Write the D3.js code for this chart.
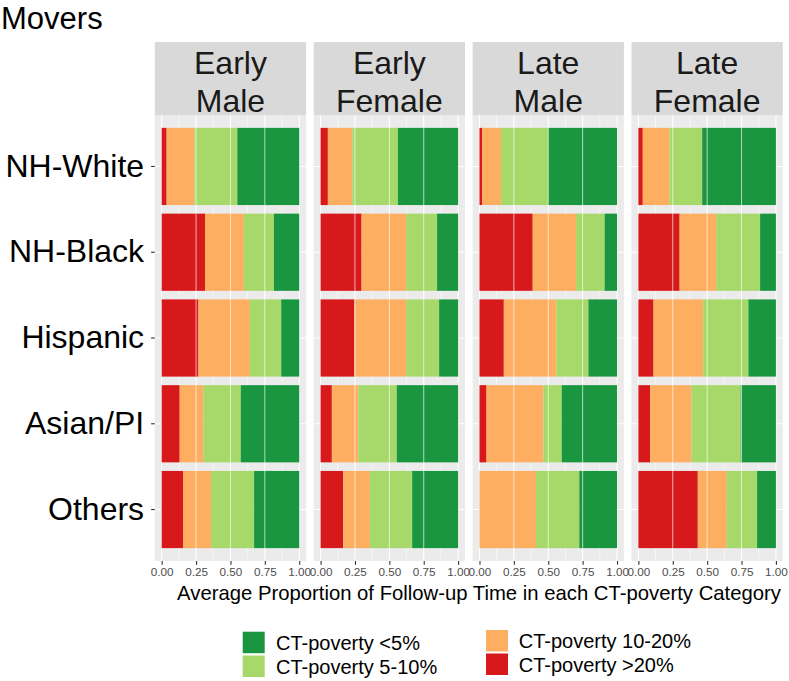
<!DOCTYPE html>
<html>
<head>
<meta charset="utf-8">
<script src="https://cdn.jsdelivr.net/npm/d3@7"></script>
<style>
  html, body { margin: 0; padding: 0; background: #ffffff; }
  svg { display: block; font-family: "Liberation Sans", Arial, sans-serif; }
</style>
</head>
<body>
<svg id="chart" width="789" height="681"></svg>
<script>
// ---------------- DATA ----------------
const chartTitle = "Movers";
const facetLabels = [["Early", "Male"], ["Early", "Female"], ["Late", "Male"], ["Late", "Female"]];
const groups = ["NH-White", "NH-Black", "Hispanic", "Asian/PI", "Others"];
const seriesKeys = ["gt20", "p10to20", "p5to10", "lt5"];
const seriesLabels = ["CT-poverty >20%", "CT-poverty 10-20%", "CT-poverty 5-10%", "CT-poverty <5%"];
const seriesColors = ["#d7191c", "#fdae61", "#a6d96a", "#1a9641"];
const xTicks = [0, 0.25, 0.5, 0.75, 1];
const xTickLabels = ["0.00", "0.25", "0.50", "0.75", "1.00"];
const xTitle = "Average Proportion of Follow-up Time in each CT-poverty Category";

// proportions per facet (rows) x group (cols)
const gt20 = [
  [0.036, 0.315, 0.267, 0.131, 0.155],
  [0.053, 0.298, 0.247, 0.082, 0.165],
  [0.019, 0.387, 0.177, 0.051, 0.000],
  [0.032, 0.300, 0.110, 0.086, 0.432]
];
const p10to20 = [
  [0.202, 0.282, 0.374, 0.172, 0.204],
  [0.177, 0.324, 0.375, 0.192, 0.193],
  [0.138, 0.315, 0.382, 0.414, 0.411],
  [0.195, 0.266, 0.361, 0.300, 0.210]
];
const p5to10 = [
  [0.312, 0.219, 0.228, 0.272, 0.313],
  [0.332, 0.225, 0.240, 0.280, 0.308],
  [0.342, 0.208, 0.233, 0.133, 0.315],
  [0.237, 0.319, 0.329, 0.358, 0.221]
];
const lt5 = [
  [0.450, 0.184, 0.131, 0.425, 0.328],
  [0.438, 0.153, 0.138, 0.446, 0.334],
  [0.501, 0.090, 0.208, 0.402, 0.274],
  [0.536, 0.115, 0.200, 0.256, 0.137]
];
const overlayLines = [0.25, 0.5, 0.75];

// ---------------- LAYOUT ----------------
const svg = d3.select("#chart");
const W = 789, H = 681;
const panelLeft0 = 154.8, panelW = 151.3, panelStep = 158.9;
const stripTop = 42, stripH = 73;
const panelTop = stripTop + stripH, panelBottom = 561;

svg.append("text")
  .attr("x", 1).attr("y", 28.5)
  .attr("font-size", 31).attr("fill", "#000")
  .text(chartTitle);

const y = d3.scaleBand().domain(groups)
  .range([panelTop, panelBottom]).paddingInner(0.1).paddingOuter(0.15);

const seriesData = [gt20, p10to20, p5to10, lt5];

facetLabels.forEach((lab, fi) => {
  const left = panelLeft0 + fi * panelStep;
  const x = d3.scaleLinear().domain([-0.05, 1.05]).range([left, left + panelW]);
  const g = svg.append("g");

  // strip
  g.append("rect").attr("x", left).attr("y", stripTop).attr("width", panelW).attr("height", stripH)
    .attr("fill", "#d9d9d9");
  lab.forEach((t, li) => {
    g.append("text").attr("x", left + panelW / 2).attr("y", stripTop + 31.5 + li * 38)
      .attr("text-anchor", "middle").attr("font-size", 32).attr("fill", "#1a1a1a").text(t);
  });

  // panel background
  g.append("rect").attr("x", left).attr("y", panelTop).attr("width", panelW).attr("height", panelBottom - panelTop)
    .attr("fill", "#ebebeb");
  // minor grid
  const minor = [0.125, 0.375, 0.625, 0.875];
  g.selectAll(".minor").data(minor).enter().append("line")
    .attr("x1", d => x(d)).attr("x2", d => x(d)).attr("y1", panelTop).attr("y2", panelBottom)
    .attr("stroke", "#ffffff").attr("stroke-width", 0.55);
  // major grid
  g.selectAll(".majorx").data(xTicks).enter().append("line")
    .attr("x1", d => x(d)).attr("x2", d => x(d)).attr("y1", panelTop).attr("y2", panelBottom)
    .attr("stroke", "#ffffff").attr("stroke-width", 1.1);
  g.selectAll(".majory").data(groups).enter().append("line")
    .attr("x1", left).attr("x2", left + panelW)
    .attr("y1", d => y(d) + y.bandwidth() / 2).attr("y2", d => y(d) + y.bandwidth() / 2)
    .attr("stroke", "#ffffff").attr("stroke-width", 1.1);

  // stacked bars
  const rows = groups.map((gname, gi) => {
    const r = { group: gname };
    seriesKeys.forEach((k, si) => { r[k] = seriesData[si][fi][gi]; });
    return r;
  });
  const stacked = d3.stack().keys(seriesKeys)(rows);
  stacked.forEach((layer, si) => {
    g.append("g").selectAll("rect").data(layer).enter().append("rect")
      .attr("x", d => x(d[0]))
      .attr("width", d => Math.max(0, x(d[1]) - x(d[0])))
      .attr("y", d => y(d.data.group))
      .attr("height", y.bandwidth())
      .attr("fill", seriesColors[si]);
  });

  // overlay white lines
  groups.forEach(gname => {
    g.selectAll(null).data(overlayLines).enter().append("line")
      .attr("x1", d => x(d)).attr("x2", d => x(d))
      .attr("y1", y(gname)).attr("y2", y(gname) + y.bandwidth())
      .attr("stroke", "#ffffff").attr("stroke-opacity", 0.65).attr("stroke-width", 1);
  });

  // x axis
  const ax = d3.axisBottom(x).tickValues(xTicks).tickFormat((d, i) => xTickLabels[i])
    .tickSize(3.7).tickPadding(3);
  const axg = g.append("g").attr("transform", `translate(0,${panelBottom})`).call(ax);
  axg.select(".domain").remove();
  axg.selectAll(".tick line").attr("stroke", "#333333").attr("stroke-width", 1.1);
  axg.selectAll(".tick text").attr("fill", "#4d4d4d").attr("font-size", 11.7)
    .attr("font-family", "Liberation Sans, Arial, sans-serif");

  if (fi === 0) {
    const ay = d3.axisLeft(y).tickSize(3.7).tickPadding(7);
    const ayg = g.append("g").attr("transform", `translate(${left},0)`).call(ay);
    ayg.select(".domain").remove();
    ayg.selectAll(".tick line").attr("stroke", "#333333").attr("stroke-width", 1.1);
    ayg.selectAll(".tick text").attr("fill", "#000").attr("font-size", 32)
      .attr("font-family", "Liberation Sans, Arial, sans-serif");
  }
});

// x axis title
svg.append("text").attr("x", 479).attr("y", 600).attr("text-anchor", "middle")
  .attr("font-size", 20.3).attr("fill", "#000").text(xTitle);

// legend (2 columns: <5%, 5-10% | 10-20%, >20%)
const legendOrder = [3, 2, 1, 0];
const legendPos = [
  { kx: 242.7, ky: 631.7, tx: 276 },
  { kx: 242.7, ky: 655.5, tx: 276 },
  { kx: 486, ky: 630, tx: 518.7 },
  { kx: 486, ky: 653.5, tx: 518.7 }
];
const keyS = 22;
const lg = svg.append("g");
legendOrder.forEach((si, i) => {
  const p = legendPos[i];
  lg.append("rect").attr("x", p.kx).attr("y", p.ky).attr("width", keyS).attr("height", keyS - 0.5)
    .attr("fill", seriesColors[si]);
  lg.append("text").attr("x", p.tx).attr("y", p.ky + keyS / 2 + 7.2)
    .attr("font-size", 20).attr("fill", "#000").text(seriesLabels[si]);
});
</script>
</body>
</html>
